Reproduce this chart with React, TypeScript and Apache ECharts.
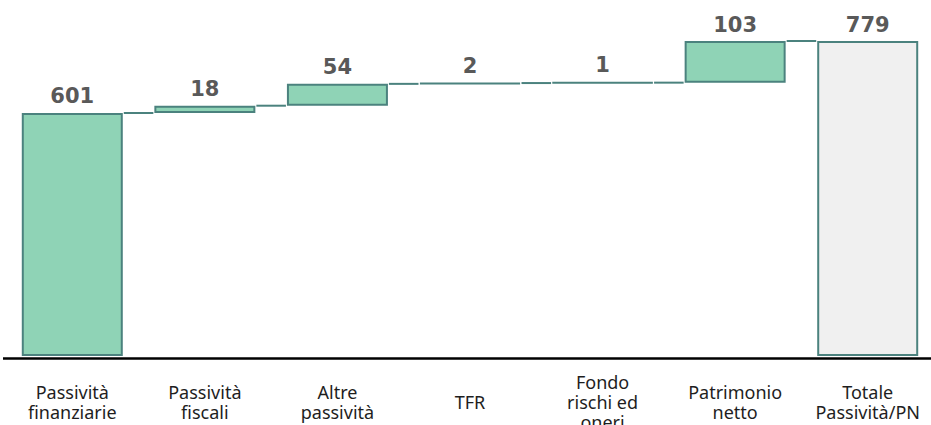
import React, { useEffect, useRef } from "react";
import * as echarts from "echarts";

const categories = [
  "Passività\nfinanziarie",
  "Passività\nfiscali",
  "Altre\npassività",
  "TFR",
  "Fondo\nrischi ed\noneri",
  "Patrimonio\nnetto",
  "Totale\nPassività/PN",
];
const values = [601, 18, 54, 2, 1, 103, 779];
const isTotal = [false, false, false, false, false, false, true];

const GREEN = "#8fd3b6";
const BORDER = "#4b827e";
const TOTAL_FILL = "#f0f0f0";
const LABEL = "#595959";

export default function App() {
  const ref = useRef<HTMLDivElement>(null);
  useEffect(() => {
    if (!ref.current) return;
    const chart = echarts.init(ref.current, undefined, { renderer: "svg" });
    const bases: number[] = [];
    const tops: number[] = [];
    let run = 0;
    values.forEach((v, i) => {
      if (isTotal[i]) {
        bases.push(0);
        tops.push(v);
      } else {
        bases.push(run);
        run += v;
        tops.push(run);
      }
    });
    const connectors = tops.slice(0, -1).map((t, i) => [i, t]);
    const halfBar = 51.5;

    chart.setOption({
      animation: false,
      grid: {
        left: 6,
        right: -3,
        top: 41,
        bottom: 69,
        containLabel: false,
        outerBoundsMode: "none",
      },
      xAxis: {
        type: "category",
        data: categories,
        axisLine: { show: false },
        axisTick: { show: false },
        axisLabel: {
          interval: 0,
          margin: 46,
          verticalAlign: "middle",
          color: "#1e1e1e",
          fontSize: 18,
          lineHeight: 20,
          fontFamily: "Noto Sans",
        },
      },
      yAxis: {
        type: "value",
        min: 0,
        max: 779,
        show: false,
        splitLine: { show: false },
      },
      series: [
        {
          type: "bar",
          stack: "w",
          data: bases,
          barWidth: 101,
          itemStyle: { color: "transparent", borderWidth: 0 },
          silent: true,
        },
        {
          type: "bar",
          stack: "w",
          barWidth: 101,
          data: values.map((v, i) => ({
            value: v,
            itemStyle: {
              color: isTotal[i] ? TOTAL_FILL : GREEN,
              borderColor: BORDER,
              borderWidth: 2,
            },
          })),
          label: {
            show: true,
            position: "top",
            distance: 6,
            color: LABEL,
            fontSize: 21,
            fontWeight: "bold",
            fontFamily: "DejaVu Sans",
          },
        },
        {
          type: "custom",
          data: connectors,
          encode: { x: 0, y: 1 },
          renderItem: (params: any, api: any) => {
            const i = api.value(0);
            const v = api.value(1);
            const p1 = api.coord([i, v]);
            const p2 = api.coord([i + 1, v]);
            return {
              type: "line",
              shape: { x1: p1[0] + halfBar, y1: p1[1], x2: p2[0] - halfBar, y2: p2[1] },
              style: { stroke: BORDER, lineWidth: 2 },
            };
          },
          z: 3,
        },
      ],
      graphic: [
        {
          type: "line",
          shape: { x1: 3, y1: 358.5, x2: 931, y2: 358.5 },
          style: { stroke: "#000000", lineWidth: 2.5 },
        },
      ],
    });
    return () => chart.dispose();
  }, []);
  return (
    <div
      ref={ref}
      style={{ position: "absolute", left: 0, top: 0, width: 931, height: 425 }}
    />
  );
}
